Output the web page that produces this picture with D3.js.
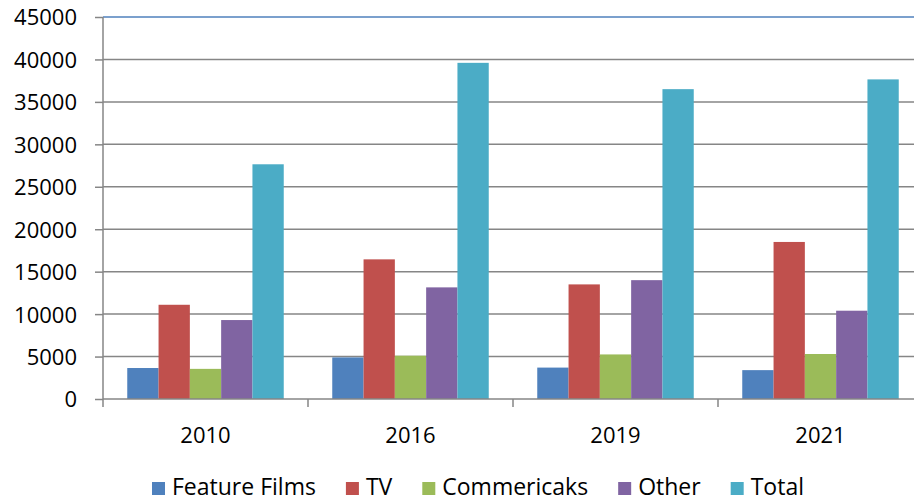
<!DOCTYPE html>
<html>
<head>
<meta charset="utf-8">
<script src="https://cdn.jsdelivr.net/npm/d3@7"></script>
<style>
  body { margin: 0; background: #fff; }
  text { font-family: "Open Sans", Lato, sans-serif; fill: #000; }
</style>
</head>
<body>
<div id="chart-area"></div>
<script>
// chart values
var years = ['2010', '2016', '2019', '2021'];
var seriesNames = ['Feature Films', 'TV', 'Commericaks', 'Other', 'Total'];
var featureFilms = [3650, 4900, 3700, 3400];
var tv = [11100, 16450, 13500, 18500];
var commercials = [3550, 5100, 5250, 5300];
var other = [9300, 13150, 14000, 10400];
var total = [27650, 39600, 36500, 37650];
var yTicks = [0, 5000, 10000, 15000, 20000, 25000, 30000, 35000, 40000, 45000];

var colors = ['#4f81bd', '#c0504d', '#9bbb59', '#8064a2', '#4bacc6'];
var allSeries = [featureFilms, tv, commercials, other, total];

var W = 914, H = 501;
// plot edges (note: "top" is taken by window.top)
var pLeft = 103, pRight = 923, pTop = 17, pBottom = 399;

var svg = d3.select('#chart-area').append('svg')
    .attr('width', W)
    .attr('height', H);

var x = d3.scaleBand()
    .domain(years)
    .range([pLeft, pRight])
    .padding(0);

var xs = d3.scaleBand()
    .domain(seriesNames)
    .range([0, x.bandwidth()])
    .paddingInner(0)
    .paddingOuter(0.775);

var y = d3.scaleLinear()
    .domain([0, 45000])
    .range([pBottom, pTop]);

// gridlines
svg.append('g')
    .selectAll('line')
    .data(yTicks.filter(function (d) { return d > 0 && d < 45000; }))
    .enter().append('line')
        .attr('x1', pLeft).attr('x2', W)
        .attr('y1', function (d) { return y(d); })
        .attr('y2', function (d) { return y(d); })
        .attr('stroke', '#868686')
        .attr('stroke-width', 1.5);

// top border line
svg.append('line')
    .attr('x1', pLeft).attr('x2', W)
    .attr('y1', y(45000)).attr('y2', y(45000))
    .attr('stroke', '#4f81bd')
    .attr('stroke-width', 1.5);

// bars
var groups = svg.append('g')
    .selectAll('g')
    .data(years)
    .enter().append('g')
        .attr('transform', function (d) { return 'translate(' + x(d) + ',0)'; });

groups.selectAll('rect')
    .data(function (d, i) {
        return seriesNames.map(function (s, j) {
            return { name: s, value: allSeries[j][i], color: colors[j] };
        });
    })
    .enter().append('rect')
        .attr('x', function (d) { return xs(d.name); })
        .attr('y', function (d) { return y(d.value); })
        .attr('width', xs.bandwidth())
        .attr('height', function (d) { return pBottom - y(d.value); })
        .attr('fill', function (d) { return d.color; });

// y axis
var yAxis = d3.axisLeft(y)
    .tickValues(yTicks)
    .tickSize(8)
    .tickPadding(18)
    .tickFormat(d3.format('d'));

var gy = svg.append('g')
    .attr('transform', 'translate(' + pLeft + ',0)')
    .call(yAxis);
gy.select('.domain').attr('stroke', '#868686').attr('stroke-width', 1.5)
    .attr('d', 'M0,' + pTop + 'V' + (pBottom + 8));
gy.selectAll('.tick line').attr('stroke', '#868686').attr('stroke-width', 1.5);
gy.selectAll('.tick text')
    .attr('font-family', null)
    .attr('font-size', null)
    .style('font-size', '22px')
    .attr('dy', '0.36em');

// x axis
var gx = svg.append('g')
    .attr('transform', 'translate(0,' + pBottom + ')');
gx.append('line')
    .attr('x1', pLeft).attr('x2', W)
    .attr('stroke', '#868686')
    .attr('stroke-width', 1.5);
gx.selectAll('line.ct')
    .data(years.slice(1))
    .enter().append('line')
        .attr('class', 'ct')
        .attr('x1', function (d) { return x(d); })
        .attr('x2', function (d) { return x(d); })
        .attr('y1', 0).attr('y2', 8)
        .attr('stroke', '#868686')
        .attr('stroke-width', 1.5);
gx.selectAll('text')
    .data(years)
    .enter().append('text')
        .attr('x', function (d) { return x(d) + x.bandwidth() / 2; })
        .attr('y', 44)
        .attr('text-anchor', 'middle')
        .style('font-size', '22px')
        .text(function (d) { return d; });

// legend
var legend = svg.append('g');
var lx = 152;
seriesNames.forEach(function (name, i) {
    legend.append('rect')
        .attr('x', lx).attr('y', 482)
        .attr('width', 13).attr('height', 13)
        .attr('fill', colors[i]);
    var t = legend.append('text')
        .attr('x', lx + 20)
        .attr('y', 495)
        .style('font-size', '23px')
        .text(name);
    lx += 20 + t.node().getComputedTextLength() + 30;
});
</script>
</body>
</html>
